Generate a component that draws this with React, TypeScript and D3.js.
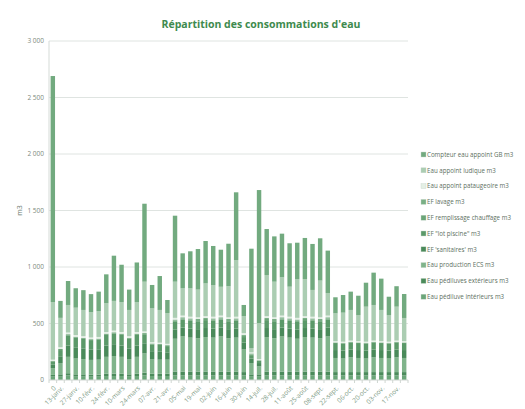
import * as d3 from "d3";
import { useEffect, useRef } from "react";

// week labels (first bar has no date: "0")
const categories = [
  "0", "13-janv.", "20-janv.", "27-janv.", "03-févr.", "10-févr.", "17-févr.", "24-févr.",
  "03-mars", "10-mars", "17-mars", "24-mars", "31-mars", "07-avr.", "14-avr.", "21-avr.",
  "28-avr.", "05-mai", "12-mai", "19-mai", "26-mai", "02-juin", "09-juin", "16-juin",
  "23-juin", "30-juin", "07-juil.", "14-juil.", "21-juil.", "28-juil.", "04-août", "11-août",
  "18-août", "25-août", "01-sept.", "08-sept.", "15-sept.", "22-sept.", "29-sept.", "06-oct.",
  "13-oct.", "20-oct.", "27-oct.", "03-nov.", "10-nov.", "17-nov.", "24-nov."
];

// series, bottom of the stack first
const pediluveInterieurs = [30,30,40,30,30,30,30,35,35,35,30,35,40,35,35,35, 40,40,40,40,40,40,40,40,40, 40,30,30, 40,40,40,40,40,40,40,40,40, 40,40,40,40,40,40,40,40,40,40];
const pediluvesExterieurs = [15,20,20,20,20,18,18,20,22,20,20,20,25,20,20,20, 35,35,35,35,35,35,35,35,35, 30,20,20, 35,35,35,35,35,35,35,35,35, 30,30,30,30,30,30,30,30,30,30];
const productionECS = [60,100,145,140,135,130,132,150,155,150,135,150,170,130,125,125, 290,310,300,295,305,300,310,295,300, 200,100,70, 305,295,310,300,290,305,300,295,310, 125,120,130,125,120,130,125,120,130,125];
const efSanitaires = [30,60,100,95,95,90,92,100,105,100,95,100,90,70,70,65, 80,80,80,80,80,80,80,80,80, 60,40,30, 80,80,80,80,80,80,80,80,80, 70,70,70,70,70,70,70,70,70,70];
const efLotPiscine = [30,55,90,90,85,85,86,95,95,95,85,95,80,60,60,55, 70,70,70,70,70,70,70,70,70, 50,30,20, 70,70,70,70,70,70,70,70,70, 62,62,62,62,62,62,62,62,62,62];
const efRemplissage = [5,10,10,8,8,8,8,10,10,10,8,10,10,8,8,8, 10,10,10,10,10,10,10,10,10, 10,5,5, 10,10,10,10,10,10,10,10,10, 5,5,5,5,5,5,5,5,5,5];
const efLavage = [0,0,0,0,0,0,0,0,0,0,0,0,0,0,0,0, 10,10,10,10,10,10,10,10,10, 10,10,0, 10,10,10,10,10,10,10,10,10, 0,0,0,0,0,0,0,0,0,0];
const appointPataugeoire = [10,15,15,15,15,15,15,15,15,15,15,15,15,12,12,12, 15,15,15,15,15,15,15,15,15, 15,10,10, 15,15,15,15,15,15,15,15,15, 12,12,12,12,12,12,12,12,12,12];
const appointLudique = [510,260,244,242,232,224,229,255,263,265,232,265,440,299,290,273, 320,241,251,245,290,280,255,275,502, 150,38,319, 364,315,339,266,341,328,237,325,200, 246,257,271,231,310,315,276,236,300,205];
const compteurGB = [2000,150,212,172,175,160,172,255,400,330,180,350,690,207,300,115, 584,310,328,359,375,346,328,376,599, 99,879,1177, 407,401,386,384,324,364,407,374,375, 142,156,162,171,212,286,277,162,181,212];

const seriesNames = [
  "Eau pédiluve intérieurs m3",
  "Eau pédiluves extérieurs m3",
  "Eau production ECS m3",
  "EF 'sanitaires' m3",
  "EF \"lot piscine\" m3",
  "EF remplissage chauffage m3",
  "EF lavage m3",
  "Eau appoint pataugeoire m3",
  "Eau appoint ludique m3",
  "Compteur eau appoint GB m3"
];
const seriesValues = [
  pediluveInterieurs, pediluvesExterieurs, productionECS, efSanitaires, efLotPiscine,
  efRemplissage, efLavage, appointPataugeoire, appointLudique, compteurGB
];
const colors = [
  "#6ba679", "#4b8b5b", "#80b48b", "#4a8a5a", "#5b9969",
  "#6aa577", "#79af85", "#e4efe5", "#abcdb2", "#72aa7f"
];

const yTicks = [0, 500, 1000, 1500, 2000, 2500, 3000];

function App({
  width = 525,
  height = 409,
  marginTop = 41,
  marginRight = 117,
  marginBottom = 29,
  marginLeft = 49
}) {
  const svgRef = useRef(null);

  useEffect(() => {
    const svg = d3.select(svgRef.current);
    svg.selectAll("*").remove();

    const rows = categories.map((c, i) => {
      const r = { cat: c };
      seriesNames.forEach((n, k) => { r[n] = seriesValues[k][i]; });
      return r;
    });
    const stacked = d3.stack().keys(seriesNames)(rows);

    const x = d3.scaleBand(categories, [marginLeft, width - marginRight]).paddingInner(0.42).paddingOuter(0.21);
    const y = d3.scaleLinear([0, 3000], [height - marginBottom, marginTop]);
    const fr = d3.formatLocale({ decimal: ",", thousands: "\u00a0", grouping: [3], currency: ["", " €"] });
    const fmt = fr.format(",.0f");

    // gridlines
    svg.append("g").selectAll("line").data(yTicks.slice(1)).join("line")
      .attr("x1", marginLeft).attr("x2", width - marginRight)
      .attr("y1", d => y(d)).attr("y2", d => y(d))
      .attr("stroke", "#dfe4e1").attr("stroke-width", 1);

    // y labels
    svg.append("g").selectAll("text").data(yTicks).join("text")
      .attr("x", marginLeft - 5).attr("y", d => y(d)).attr("dy", "0.35em")
      .attr("text-anchor", "end")
      .style("font-family", "'Open Sans', sans-serif").style("font-size", "6.5px")
      .attr("fill", "#7d8a80")
      .text(d => fmt(d));

    // bars
    svg.append("g").selectAll("g").data(stacked).join("g")
      .attr("fill", (d, i) => colors[i])
      .selectAll("rect").data(d => d).join("rect")
      .attr("x", d => x(d.data.cat))
      .attr("y", d => y(d[1]))
      .attr("width", x.bandwidth())
      .attr("height", d => y(d[0]) - y(d[1]));

    // axes lines
    svg.append("line")
      .attr("x1", marginLeft).attr("x2", marginLeft)
      .attr("y1", marginTop).attr("y2", height - marginBottom)
      .attr("stroke", "#d5dbd7");
    svg.append("line")
      .attr("x1", marginLeft).attr("x2", width - marginRight)
      .attr("y1", y(0)).attr("y2", y(0))
      .attr("stroke", "#cfd6d1");

    // category ticks at band boundaries
    const step = x.step();
    const x0 = x.range()[0];
    svg.append("g").selectAll("line").data(d3.range(categories.length + 1)).join("line")
      .attr("x1", i => x0 + i * step).attr("x2", i => x0 + i * step)
      .attr("y1", y(0)).attr("y2", y(0) + 3)
      .attr("stroke", "#cfd6d1");

    // category labels, one out of two
    svg.append("g").selectAll("text")
      .data(categories.filter((c, i) => i === 0 || i % 2 === 1))
      .join("text")
      .attr("transform", d => `translate(${x(d) + x.bandwidth() / 2 + 2},${y(0) + 7}) rotate(-45)`)
      .attr("text-anchor", "end")
      .attr("dy", "0.35em")
      .style("font-family", "'Open Sans', sans-serif").style("font-size", "6.5px")
      .attr("fill", "#7d9a84")
      .text(d => d);

    // y title
    svg.append("text")
      .attr("transform", `translate(22,${(marginTop + height - marginBottom) / 2}) rotate(-90)`)
      .attr("text-anchor", "middle")
      .style("font-family", "'Open Sans', sans-serif").style("font-size", "7px")
      .attr("fill", "#6e7d72")
      .text("m3");

    // title
    svg.append("text")
      .attr("x", 261).attr("y", 28)
      .attr("text-anchor", "middle")
      .style("font-family", "'Open Sans', sans-serif").style("font-size", "10.5px").style("font-weight", "bold")
      .attr("fill", "#3e8a4e")
      .text("Répartition des consommations d'eau");

    // legend (top of stack first)
    const legendItems = seriesNames.map((n, i) => ({ name: n, color: colors[i] })).reverse();
    const lg = svg.append("g").selectAll("g").data(legendItems).join("g")
      .attr("transform", (d, i) => `translate(421,${155 + i * 15.8})`);
    lg.append("rect")
      .attr("x", 0).attr("y", -3).attr("width", 5).attr("height", 5)
      .attr("fill", d => d.color).attr("stroke", "#c9d6cc").attr("stroke-width", 0.4);
    lg.append("text")
      .attr("x", 6).attr("y", 0).attr("dy", "0.3em")
      .style("font-family", "'Open Sans', sans-serif").style("font-size", "6.2px")
      .attr("fill", "#5d6f61")
      .text(d => d.name);
  }, []);

  return (
    <svg ref={svgRef} width={width} height={height}
      style={{ position: "absolute", left: 0, top: 0, background: "#fff" }} />
  );
}

export default App;
